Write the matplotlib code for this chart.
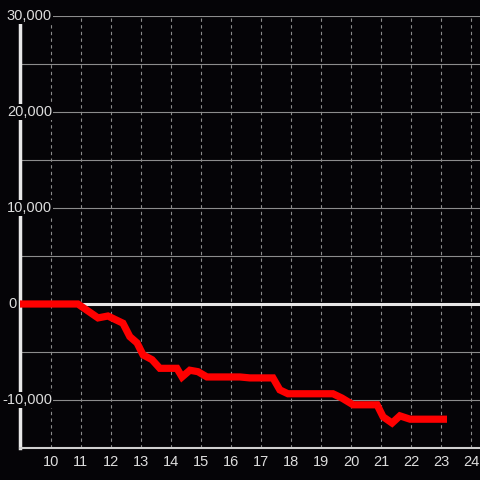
import matplotlib
matplotlib.use("Agg")
import matplotlib.pyplot as plt
from matplotlib.transforms import blended_transform_factory

# data
x_vals = [8.97, 10.9, 11.57, 11.9, 12.4, 12.63, 12.87, 13.07, 13.37, 13.63, 14.2, 14.37,
          14.63, 14.9, 15.2, 16.3, 16.63, 17.4, 17.63, 17.9, 19.4, 19.7, 20.07, 20.87,
          21.07, 21.37, 21.63, 21.97, 23.2]
y_vals = [0, 0, -1450, -1250, -2000, -3400, -4050, -5300, -5800, -6700, -6700, -7600,
          -6900, -7050, -7600, -7600, -7700, -7700, -8950, -9350, -9350, -9800, -10500,
          -10500, -11750, -12400, -11650, -12000, -12000]
x_ticks = list(range(10, 25))
y_label_ticks = [30000, 20000, 10000, 0, -10000]
y_grid_ticks = [-15000, -10000, -5000, 0, 5000, 10000, 15000, 20000, 25000, 30000]

bg = "#050407"
fig = plt.figure(figsize=(4.8, 4.8), dpi=100, facecolor=bg)
ax = fig.add_axes([20/480, 1 - 448/480, 1 - 20/480, (448 - 16)/480])
ax.set_facecolor(bg)
ax.set_xlim(8.97, 24.3)
ax.set_ylim(-15000, 30000)

for s in ["top", "right", "left"]:
    ax.spines[s].set_visible(False)
ax.spines["bottom"].set_color("#d0d0d0")
ax.spines["bottom"].set_linewidth(1.5)

# gridlines
for yv in y_grid_ticks:
    ax.axhline(yv, color="#8c8c8c", lw=0.8, zorder=1)
for xv in x_ticks:
    ax.axvline(xv, color="#8c8c8c", lw=0.8, ls=(0, (3, 3)), zorder=1)

# y axis line
ax.axvline(8.97, color="#e8e8e8", lw=2.5, zorder=2, clip_on=False)
# zero line
ax.axhline(0, color="#e8e8e8", lw=2.2, zorder=2)

ax.plot(x_vals, y_vals, color="#ff0000", lw=5.2, zorder=4, solid_joinstyle="miter",
        solid_capstyle="butt")

ax.set_xticks(x_ticks)
ax.set_xticklabels([str(t) for t in x_ticks])
ax.tick_params(axis="x", length=0, pad=5, colors="#dddddd", labelsize=10.5)
for lbl in ax.get_xticklabels():
    lbl.set_fontfamily("Liberation Sans")
ax.set_yticks([])

trans = blended_transform_factory(fig.transFigure, ax.transData)
for yv in y_label_ticks:
    xr = 17 if yv == 0 else 52
    ax.text(xr/480, yv, f"{yv:,}", transform=trans, ha="right", va="center",
            color="#dddddd", fontsize=10.5, family="Liberation Sans", zorder=5,
            bbox=dict(boxstyle="square,pad=0.1", fc=bg, ec="none"))

fig.savefig("out.png", dpi=100, facecolor=bg)
